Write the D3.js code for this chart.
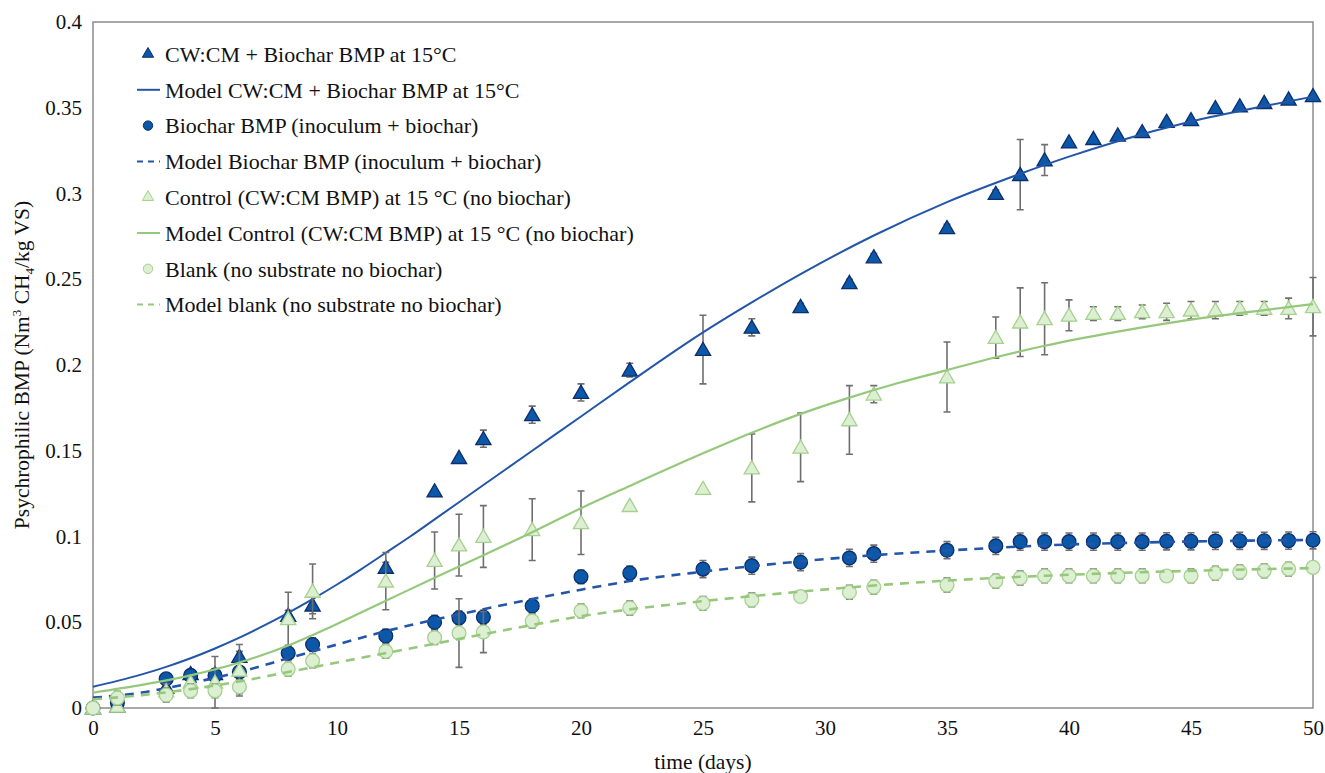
<!DOCTYPE html>
<html>
<head>
<meta charset="utf-8">
<script src="https://cdn.jsdelivr.net/npm/d3@7"></script>
<style>
  body { margin: 0; background: #fff; }
  svg { display: block; }
  svg text { font-family: "Liberation Serif", "Times New Roman", "DejaVu Serif", serif; }
</style>
</head>
<body>
<div id="chart"></div>
<script>
// measured days
const days = [0, 1, 3, 4, 5, 6, 8, 9, 12, 14, 15, 16, 18, 20, 22, 25, 27, 29, 31, 32, 35, 37, 38, 39, 40, 41, 42, 43, 44, 45, 46, 47, 48, 49, 50]

// CW:CM + Biochar BMP at 15°C
const cwcmBiochar = [0, 0.001, 0.012, 0.02, 0.02, 0.03, 0.054, 0.06, 0.082, 0.1265, 0.146, 0.157, 0.171, 0.184, 0.197, 0.209, 0.222, 0.234, 0.248, 0.263, 0.28, 0.3, 0.311, 0.3195, 0.33, 0.332, 0.334, 0.336, 0.342, 0.343, 0.35, 0.351, 0.353, 0.355, 0.357]
const cwcmBiocharErr = [0, 0, 0.003, 0.002, 0.003, 0.003, 0.003, 0.005, 0.003, 0, 0, 0.005, 0.005, 0.005, 0.004, 0.02, 0.005, 0.002, 0.002, 0.002, 0.002, 0.002, 0.0205, 0.009, 0, 0, 0, 0, 0, 0, 0, 0, 0, 0, 0]

// Biochar BMP (inoculum + biochar)
const biochar = [0, 0.003, 0.017, 0.019, 0.019, 0.021, 0.032, 0.037, 0.042, 0.05, 0.0526, 0.053, 0.0595, 0.0765, 0.0787, 0.081, 0.083, 0.085, 0.0875, 0.09, 0.092, 0.0945, 0.097, 0.097, 0.097, 0.097, 0.097, 0.097, 0.0972, 0.0972, 0.0974, 0.0975, 0.0975, 0.0976, 0.0978]
const biocharErr = [0, 0, 0.003, 0.003, 0.003, 0.003, 0.004, 0.004, 0.004, 0.004, 0.004, 0.004, 0.004, 0.004, 0.004, 0.005, 0.005, 0.005, 0.005, 0.005, 0.005, 0.005, 0.005, 0.005, 0.005, 0.005, 0.005, 0.005, 0.005, 0.005, 0.005, 0.005, 0.005, 0.005, 0.005]

// Control (CW:CM BMP) at 15 °C (no biochar)
const control = [0, 0.001, 0.01, 0.015, 0.015, 0.022, 0.052, 0.068, 0.074, 0.086, 0.095, 0.1, 0.104, 0.108, 0.118, 0.128, 0.14, 0.152, 0.168, 0.183, 0.193, 0.216, 0.225, 0.227, 0.229, 0.23, 0.23, 0.231, 0.231, 0.232, 0.232, 0.233, 0.233, 0.233, 0.234]
const controlErr = [0, 0, 0.004, 0.004, 0.015, 0.015, 0.0155, 0.016, 0.0167, 0.0166, 0.018, 0.018, 0.018, 0.0185, 0.001, 0.001, 0.0198, 0.02, 0.02, 0.005, 0.0204, 0.012, 0.02, 0.021, 0.009, 0.004, 0.004, 0.004, 0.005, 0.005, 0.005, 0.004, 0.004, 0.006, 0.017]

// Blank (no substrate no biochar)
const blank = [0, 0.0058, 0.0076, 0.01, 0.01, 0.0124, 0.0227, 0.0275, 0.033, 0.041, 0.0437, 0.0443, 0.0507, 0.0566, 0.0583, 0.061, 0.063, 0.065, 0.0675, 0.0705, 0.0717, 0.074, 0.0758, 0.077, 0.077, 0.077, 0.077, 0.077, 0.077, 0.077, 0.0786, 0.0794, 0.08, 0.081, 0.082]
const blankErr = [0, 0.004, 0.004, 0.004, 0.004, 0.004, 0.004, 0.004, 0.004, 0.004, 0.02, 0.012, 0.004, 0.004, 0.004, 0.004, 0.004, 0.001, 0.004, 0.004, 0.004, 0.004, 0.004, 0.004, 0.004, 0.004, 0.004, 0.004, 0.001, 0.004, 0.004, 0.004, 0.004, 0.004, 0]

// model curves
const modelCwcmDays = [0, 1, 2, 3, 4, 5, 6, 7, 8, 9, 10, 11, 12, 13, 14, 16, 18, 20, 22, 25, 27, 29, 32, 35, 38, 40, 42, 45, 48, 50]
const modelCwcm = [0.0124, 0.0158, 0.0196, 0.024, 0.029, 0.0347, 0.041, 0.048, 0.0555, 0.0635, 0.072, 0.081, 0.0905, 0.1, 0.11, 0.13, 0.15, 0.17, 0.19, 0.219, 0.2365, 0.253, 0.2755, 0.295, 0.3115, 0.3215, 0.3305, 0.342, 0.351, 0.3565]
const modelBiocharDays = [0, 2, 4, 6, 8, 10, 12, 14, 16, 18, 20, 22, 25, 29, 31, 35, 39, 44, 50]
const modelBiochar = [0.006, 0.009, 0.0145, 0.021, 0.029, 0.037, 0.0448, 0.0515, 0.0576, 0.0635, 0.069, 0.074, 0.0795, 0.0855, 0.088, 0.0918, 0.0948, 0.0968, 0.098]
const modelControlDays = [0, 2, 4, 6, 8, 10, 12, 14, 16, 18, 20, 22, 25, 27, 29, 31, 33, 35, 37, 39, 42, 45, 48, 50]
const modelControl = [0.009, 0.0135, 0.019, 0.0265, 0.0365, 0.049, 0.0625, 0.076, 0.089, 0.1025, 0.1165, 0.1295, 0.1485, 0.1605, 0.1715, 0.181, 0.1895, 0.197, 0.2045, 0.2112, 0.2195, 0.2265, 0.232, 0.2355]
const modelBlankDays = [0, 2, 4, 6, 8, 10, 12, 14, 16, 18, 20, 22, 25, 27, 31, 35, 39, 44, 50]
const modelBlank = [0.005, 0.0075, 0.011, 0.0155, 0.021, 0.0265, 0.032, 0.0375, 0.043, 0.0484, 0.0535, 0.0575, 0.0623, 0.0652, 0.0703, 0.0743, 0.0771, 0.0796, 0.0816]

const xTicks = [0, 5, 10, 15, 20, 25, 30, 35, 40, 45, 50]
const yTicks = [0, 0.05, 0.1, 0.15, 0.2, 0.25, 0.3, 0.35, 0.4]

const width = 1325
const height = 773
const margin = [22, 12, 65, 93] // top right bottom left

const blueLine = "#2356a8"
const blueFill = "#0b58a8"
const blueEdge = "#0d2d6c"
const greenLine = "#96c87c"
const greenFill = "#dcefd2"
const greenEdge = "#a6d18e"
const errColor = "#6f6f6f"

const x = d3.scaleLinear().domain([0, 50]).range([margin[3], width - margin[1]])
const y = d3.scaleLinear().domain([0, 0.4]).range([height - margin[2], margin[0]])

const svg = d3.select("#chart")
  .append("svg")
  .attr("width", width)
  .attr("height", height)
  .attr("viewBox", [0, 0, width, height])

// plot frame
svg.append("rect")
  .attr("x", x(0))
  .attr("y", y(0.4))
  .attr("width", x(50) - x(0))
  .attr("height", y(0) - y(0.4))
  .attr("fill", "none")
  .attr("stroke", "#8c8c8c")
  .attr("stroke-width", 1.5)

// axes (labels only)
svg.append("g")
  .attr("transform", `translate(0,${y(0)})`)
  .call(d3.axisBottom(x).tickValues(xTicks).tickSize(0).tickPadding(12).tickFormat(d3.format("d")))
  .call(g => g.select(".domain").remove())
  .call(g => g.attr("font-family", null))
  .selectAll("text")
  .attr("font-size", 21)
  .attr("fill", "#111")

svg.append("g")
  .attr("transform", `translate(${x(0)},0)`)
  .call(d3.axisLeft(y).tickValues(yTicks).tickSize(0).tickPadding(11).tickFormat(d => d === 0 ? "0" : String(+d.toFixed(2))))
  .call(g => g.select(".domain").remove())
  .call(g => g.attr("font-family", null))
  .selectAll("text")
  .attr("font-size", 21)
  .attr("fill", "#111")

// axis titles
svg.append("text")
  .attr("x", x(25))
  .attr("y", 769)
  .attr("text-anchor", "middle")
  .attr("font-size", 21.5)
  .attr("fill", "#111")
  .text("time (days)")

const yTitle = svg.append("text")
  .attr("transform", `translate(29,${y(0.2)}) rotate(-90)`)
  .attr("text-anchor", "middle")
  .attr("font-size", 21.5)
  .attr("fill", "#111")
yTitle.append("tspan").text("Psychrophilic BMP (Nm")
yTitle.append("tspan").attr("font-size", 13).attr("dy", -8).text("3")
yTitle.append("tspan").attr("dy", 8).text(" CH")
yTitle.append("tspan").attr("font-size", 13).attr("dy", 5).text("4")
yTitle.append("tspan").attr("dy", -5).text("/kg VS)")

const plot = svg.append("g")

const line = d3.line().x(d => x(d[0])).y(d => y(d[1])).curve(d3.curveMonotoneX)

function drawModel(xs, ys, color, dash, w) {
  plot.append("path")
    .attr("d", line(d3.zip(xs, ys)))
    .attr("fill", "none")
    .attr("stroke", color)
    .attr("stroke-width", w)
    .attr("stroke-dasharray", dash)
}

function drawPoints(vals, errs, symbol, size, fill, edge) {
  const I = d3.range(days.length)
  const g = plot.append("g")
  g.append("g")
    .attr("stroke", errColor)
    .attr("stroke-width", 1.6)
    .selectAll("path")
    .data(I.filter(i => errs[i] > 0.0015))
    .join("path")
    .attr("d", i => {
      const cx = x(days[i]), y1 = y(vals[i] + errs[i]), y2 = y(vals[i] - errs[i])
      return `M${cx},${y1}V${y2}M${cx - 3.5},${y1}H${cx + 3.5}M${cx - 3.5},${y2}H${cx + 3.5}`
    })
  g.append("g")
    .selectAll("path")
    .data(I)
    .join("path")
    .attr("transform", i => `translate(${x(days[i])},${y(vals[i]) + (symbol === d3.symbolTriangle ? 1.5 : 0)})`)
    .attr("d", d3.symbol(symbol, size))
    .attr("fill", fill)
    .attr("stroke", edge)
    .attr("stroke-width", 1.3)
}

drawPoints(cwcmBiochar, cwcmBiocharErr, d3.symbolTriangle, 100, blueFill, blueEdge)
drawModel(modelCwcmDays, modelCwcm, blueLine, null, 2)
drawPoints(biochar, biocharErr, d3.symbolCircle, 150, blueFill, blueEdge)
drawModel(modelBiocharDays, modelBiochar, blueLine, "9,7", 2.6)
drawPoints(control, controlErr, d3.symbolTriangle, 100, greenFill, greenEdge)
drawModel(modelControlDays, modelControl, greenLine, null, 2.2)
drawPoints(blank, blankErr, d3.symbolCircle, 150, greenFill, greenEdge)
drawModel(modelBlankDays, modelBlank, greenLine, "9,7", 2.6)

// legend
const legendItems = [
  { label: "CW:CM + Biochar BMP at 15°C", symbol: d3.symbolTriangle, fill: blueFill, edge: blueEdge },
  { label: "Model CW:CM + Biochar BMP at 15°C", line: blueLine, dash: null },
  { label: "Biochar BMP (inoculum + biochar)", symbol: d3.symbolCircle, fill: blueFill, edge: blueEdge },
  { label: "Model Biochar BMP (inoculum + biochar)", line: blueLine, dash: "6,5" },
  { label: "Control (CW:CM BMP) at 15 °C (no biochar)", symbol: d3.symbolTriangle, fill: greenFill, edge: greenEdge },
  { label: "Model Control (CW:CM BMP) at 15 °C (no biochar)", line: greenLine, dash: null },
  { label: "Blank (no substrate no biochar)", symbol: d3.symbolCircle, fill: greenFill, edge: greenEdge },
  { label: "Model blank (no substrate no biochar)", line: greenLine, dash: "6,5" }
]

const legend = svg.append("g")
  .selectAll("g")
  .data(legendItems)
  .join("g")
  .attr("transform", (d, i) => `translate(148,${54 + i * 35.8})`)

legend.filter(d => d.symbol)
  .append("path")
  .attr("d", d => d3.symbol(d.symbol, d.symbol === d3.symbolTriangle ? 55 : 70)())
  .attr("fill", d => d.fill)
  .attr("stroke", d => d.edge)
  .attr("stroke-width", 1)

legend.filter(d => d.line)
  .append("line")
  .attr("x1", -11)
  .attr("x2", 12)
  .attr("stroke", d => d.line)
  .attr("stroke-width", 2)
  .attr("stroke-dasharray", d => d.dash)

legend.append("text")
  .attr("x", 17)
  .attr("dy", "0.35em")
  .attr("font-size", 22)
  .attr("fill", "#111")
  .text(d => d.label)
</script>
</body>
</html>
